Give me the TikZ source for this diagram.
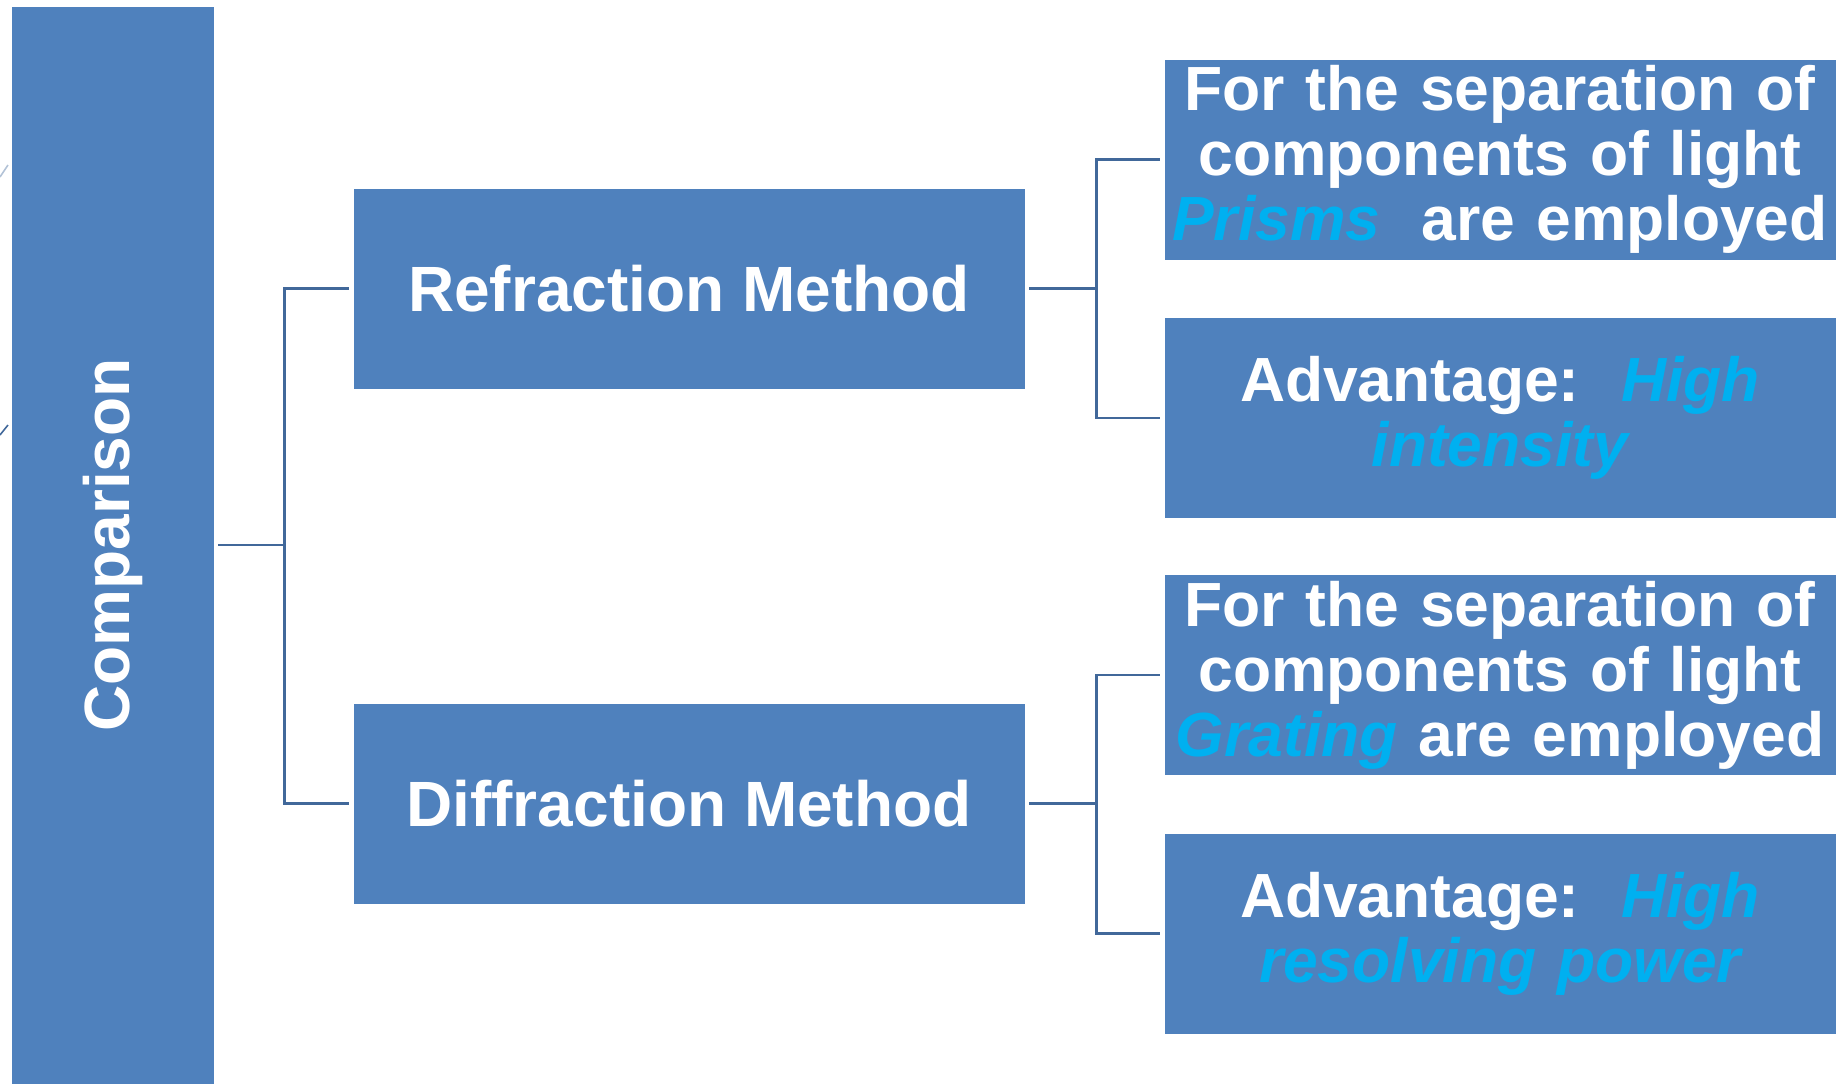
\documentclass[tikz,border=0pt]{standalone}
\usepackage{fontspec}
\setmainfont{Liberation Sans}
\definecolor{boxblue}{HTML}{4F81BD}
\definecolor{linkblue}{HTML}{41689A}
\definecolor{hilite}{HTML}{00B0F0}
\newcommand{\hl}[1]{\textcolor{hilite}{\itshape #1}}
\tikzset{
    box/.style={fill=boxblue, draw=white, line width=0.4pt, inner sep=0pt,
        text=white, font=\fontsize{32}{32.5}\selectfont\bfseries,
        align=center, minimum height=100.5pt},
    method/.style={box, minimum width=336pt},
    detail/.style={box, minimum width=336pt, text width=335pt,
        font=\fontsize{31.2}{32.5}\selectfont\bfseries},
    link/.style={linkblue, line width=1.4pt}
}
\begin{document}
\begin{tikzpicture}[x=0.5pt, y=-0.5pt]
        \useasboundingbox (0,0) rectangle (1843,1084);
        %% Left column
        \node[box, minimum width=101.5pt, minimum height=539pt]
            (comp) at (112.5,545) {};
        \node[rotate=90, text=white, font=\fontsize{32}{32.5}\selectfont\bfseries]
            (comptext) at (comp.center) {Comparison};
        \draw[linkblue!40, line width=0.8pt] (0,177) -- (8,165);
        \draw[linkblue, line width=0.8pt] (0,435) -- (8,425);
        %% Methods
        \node[method] (refr) at (689,288.5) {Refraction Method};
        \node[method] (diffr) at (689,803.5) {Diffraction Method};
        %% Details
        \node[detail] (prism) at (1500,159.5)
            {For the separation of\\components of light\\\hl{Prisms}\ \ are employed};
        \node[detail] (adv1) at (1500,418)
            {Advantage:\ \ \hl{High}\\\hl{intensity}};
        \node[detail] (grat) at (1500,675)
            {For the separation of\\components of light\\\hl{Grating} are employed};
        \node[detail] (adv2) at (1500,933.5)
            {Advantage:\ \ \hl{High}\\\hl{resolving power}};
        %% Connectors
        \draw[link] ([xshift=2pt]comp.east) -- +(66,0) |- ([xshift=-2pt]refr.west);
        \draw[link] ([xshift=2pt]comp.east) -- +(66,0) |- ([xshift=-2pt]diffr.west);
        \draw[link] ([xshift=2pt]refr.east) -- +(67,0) |- ([xshift=-2pt]prism.west);
        \draw[link] ([xshift=2pt]refr.east) -- +(67,0) |- ([xshift=-2pt]adv1.west);
        \draw[link] ([xshift=2pt]diffr.east) -- +(67,0) |- ([xshift=-2pt]grat.west);
        \draw[link] ([xshift=2pt]diffr.east) -- +(67,0) |- ([xshift=-2pt]adv2.west);
\end{tikzpicture}
\end{document}
